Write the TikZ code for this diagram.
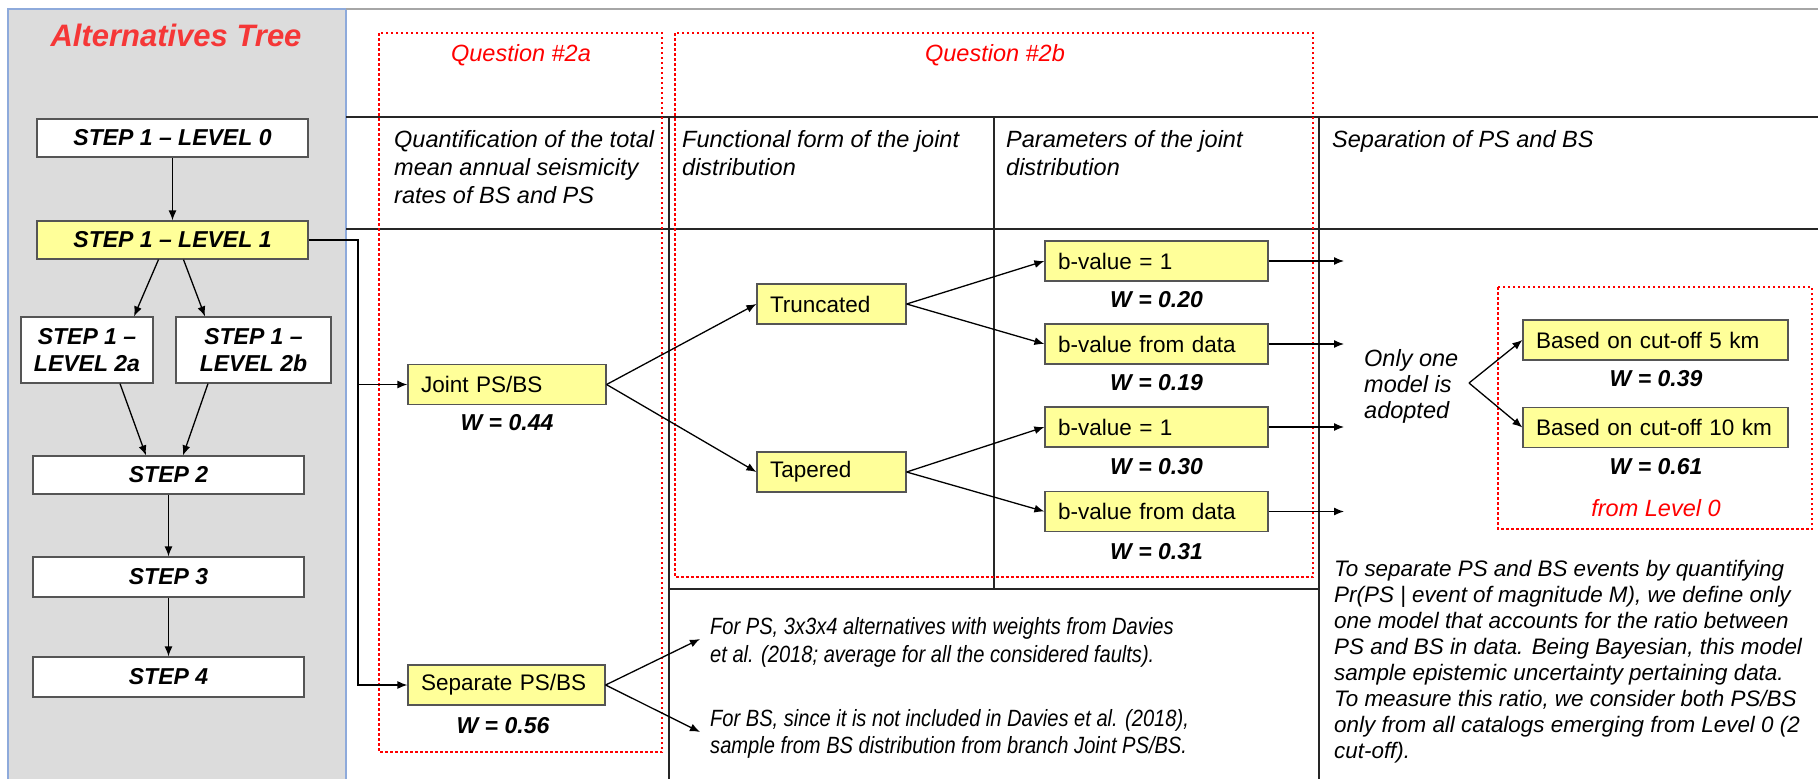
\documentclass[tikz,border=0pt]{standalone}
\usepackage{fontspec}
\setmainfont{Liberation Sans}
\newfontfamily\narrowsans[FakeStretch=0.855]{Liberation Sans}
\usetikzlibrary{arrows.meta,calc}
\definecolor{panelgray}{RGB}{220,220,220}
\definecolor{panelblue}{RGB}{142,170,219}
\definecolor{boxyellow}{RGB}{255,255,153}
\definecolor{boxline}{RGB}{85,85,85}
\definecolor{qred}{RGB}{255,0,0}
\definecolor{titlered}{RGB}{245,55,55}
\newcommand\fsz[2]{\fontsize{#1}{#2}\selectfont}
\tikzset{
  stepbox/.style={draw=boxline, fill=white, line width=1.2pt, inner sep=0pt, align=center,
    font=\fsz{23}{27}\bfseries\itshape},
  ybox/.style={draw=boxline, fill=boxyellow, line width=1.2pt, inner xsep=13pt, inner ysep=0pt,
    minimum height=40pt, align=left, font=\fsz{22.5}{26}},
  wlabel/.style={font=\fsz{23}{26}\bfseries\itshape, inner sep=0pt},
  hdr/.style={anchor=north west, align=left, inner sep=0pt, font=\fsz{23.5}{28}\itshape},
  qlabel/.style={text=qred, inner sep=0pt, font=\fsz{23.5}{28}\itshape},
  arr/.style={-{Latex[length=10pt,width=8pt]}, line width=1.3pt},
  rulel/.style={line width=1.5pt, black!85},
  qbox/.style={draw=qred, line width=1.5pt, dash pattern=on 2.5pt off 2.5pt},
}
\begin{document}
\begin{tikzpicture}[x=1pt,y=-1pt]
\useasboundingbox (0,0) rectangle (1818,779);
\fill[white] (0,0) rectangle (1818,779);

% left panel
\draw[fill=panelgray, draw=panelblue, line width=1.5pt] (8,9) rectangle (346,790);
\node[inner sep=0pt, text=titlered, font=\fsz{31}{34}\bfseries\itshape] (title) at (176,35) {Alternatives Tree};

% table rules on the right
\draw[line width=2pt, black!35] (346,9) -- (1818,9);
\draw[rulel] (346,117) -- (1818,117);
\draw[rulel] (346,229) -- (1818,229);
\draw[rulel] (669,117) -- (669,779);
\draw[rulel] (994,117) -- (994,589);
\draw[rulel] (1319,117) -- (1319,779);
\draw[line width=2.5pt, black!85] (669,589) -- (1319,589);

% question frames
\draw[qbox] (379,33) rectangle (662,752);
\draw[qbox] (675,33) rectangle (1313,577);
\draw[qbox] (1498,287) rectangle (1812,529);
\node[qlabel] (q2a) at (521,55) {Question \#2a};
\node[qlabel] (q2b) at (995,55) {Question \#2b};

% column headers
\node[hdr] (h1) at (394,130) {Quantification of the total\\mean annual seismicity\\rates of BS and PS};
\node[hdr] (h2) at (682,130) {Functional form of the joint\\distribution};
\node[hdr] (h3) at (1006,130) {Parameters of the joint\\distribution};
\node[hdr] (h4) at (1332,130) {Separation of PS and BS};

% steps of the alternatives tree
\node[stepbox, minimum width=271pt, minimum height=38pt] (L0) at (172.5,138) {STEP 1 -- LEVEL 0};
\node[stepbox, fill=boxyellow, minimum width=271pt, minimum height=38pt] (L1) at (172.5,240) {STEP 1 -- LEVEL 1};
\node[stepbox, minimum width=132pt, minimum height=66pt] (L2a) at (87,350) {STEP 1 --\\LEVEL 2a};
\node[stepbox, minimum width=155pt, minimum height=66pt] (L2b) at (253.5,350) {STEP 1 --\\LEVEL 2b};
\node[stepbox, minimum width=271pt, minimum height=38pt] (S2) at (168.5,475) {STEP 2};
\node[stepbox, minimum width=271pt, minimum height=40pt] (S3) at (168.5,577) {STEP 3};
\node[stepbox, minimum width=271pt, minimum height=40pt] (S4) at (168.5,677) {STEP 4};

\draw[arr] (L0.south) -- (L1.north);
\draw[arr] ($(L1.south)+(-14,0)$) -- ($(L2a.north)+(47,0)$);
\draw[arr] ($(L1.south)+(11,0)$) -- ($(L2b.north)+(-48.5,0)$);
\draw[arr] ($(L2a.south)+(33,0)$) -- ($(S2.north)+(-22.5,0)$);
\draw[arr] ($(L2b.south)+(-45.5,0)$) -- ($(S2.north)+(14.5,0)$);
\draw[arr] (S2.south) -- (S3.north);
\draw[arr] (S3.south) -- (S4.north);

% branches of question 2a
\node[ybox, text width=172pt] (joint) at (507,384.5) {Joint PS/BS};
\node[wlabel] (wjoint) at (507,423) {W = 0.44};
\node[ybox, text width=171pt] (sep) at (506.5,685) {Separate PS/BS};
\node[wlabel] (wsep) at (503,726) {W = 0.56};

\coordinate (trunkTop) at (358,240);
\coordinate (trunkMid) at (358,384.5);
\draw[arr] (L1.east) -- (trunkTop) |- (sep.west);
\draw[arr] (trunkMid) -- (joint.west);

% functional form
\node[ybox, text width=123pt] (trunc) at (831.5,304) {Truncated};
\node[ybox, text width=123pt] (taper) at (831.5,472) {Tapered};
\draw[arr] (joint.east) -- (trunc.west);
\draw[arr] (joint.east) -- (taper.west);

% parameters
\node[ybox, text width=197pt] (bva) at (1156.5,261) {b-value = 1};
\node[wlabel] (wbva) at (1156.5,300) {W = 0.20};
\node[ybox, text width=197pt] (bda) at (1156.5,344) {b-value from data};
\node[wlabel] (wbda) at (1156.5,383) {W = 0.19};
\node[ybox, text width=197pt] (bvb) at (1156.5,427) {b-value = 1};
\node[wlabel] (wbvb) at (1156.5,467) {W = 0.30};
\node[ybox, text width=197pt] (bdb) at (1156.5,511.5) {b-value from data};
\node[wlabel] (wbdb) at (1156.5,552) {W = 0.31};
\draw[arr] (trunc.east) -- (bva.west);
\draw[arr] (trunc.east) -- (bda.west);
\draw[arr] (taper.east) -- (bvb.west);
\draw[arr] (taper.east) -- (bdb.west);

\coordinate (oa) at (1344,261);
\coordinate (ob) at (1344,344);
\coordinate (oc) at (1344,427);
\coordinate (od) at (1344,511.5);
\draw[arr] (bva.east) -- (oa);
\draw[arr] (bda.east) -- (ob);
\draw[arr] (bvb.east) -- (oc);
\draw[arr] (bdb.east) -- (od);

% separation of PS and BS
\node[hdr, font=\fsz{23.5}{26}\itshape] (only) at (1364,349) {Only one\\model is\\adopted};
\coordinate (apex) at (1469,383);
\node[ybox, text width=239pt] (c5) at (1655.5,340) {Based on cut-off 5 km};
\node[wlabel] (wc5) at (1656,379) {W = 0.39};
\node[ybox, text width=239pt] (c10) at (1655.5,427.5) {Based on cut-off 10 km};
\node[wlabel] (wc10) at (1656,467) {W = 0.61};
\node[qlabel] (lvl0) at (1656,508) {from Level 0};
\draw[arr] (apex) -- (c5.west);
\draw[arr] (apex) -- (c10.west);

\node[hdr, font=\fsz{22.4}{26}\itshape] (note) at (1334,560) {To separate PS and BS events by quantifying\\Pr(PS | event of magnitude M), we define only\\one model that accounts for the ratio between\\PS and BS in data. Being Bayesian, this model\\sample epistemic uncertainty pertaining data.\\To measure this ratio, we consider both PS/BS\\only from all catalogs emerging from Level 0 (2\\cut-off).};

% separate PS/BS alternatives
\node[hdr, font=\narrowsans\fsz{23.5}{28}\itshape] (forps) at (710,617) {For PS, 3x3x4 alternatives with weights from Davies\\et al. (2018; average for all the considered faults).};
\node[hdr, font=\narrowsans\fsz{23.5}{27}\itshape] (forbs) at (710,709) {For BS, since it is not included in Davies et al. (2018),\\sample from BS distribution from branch Joint PS/BS.};
\coordinate (tps) at (700,639);
\coordinate (tbs) at (700,732);
\draw[arr] (sep.east) -- (tps);
\draw[arr] (sep.east) -- (tbs);
\end{tikzpicture}
\end{document}
